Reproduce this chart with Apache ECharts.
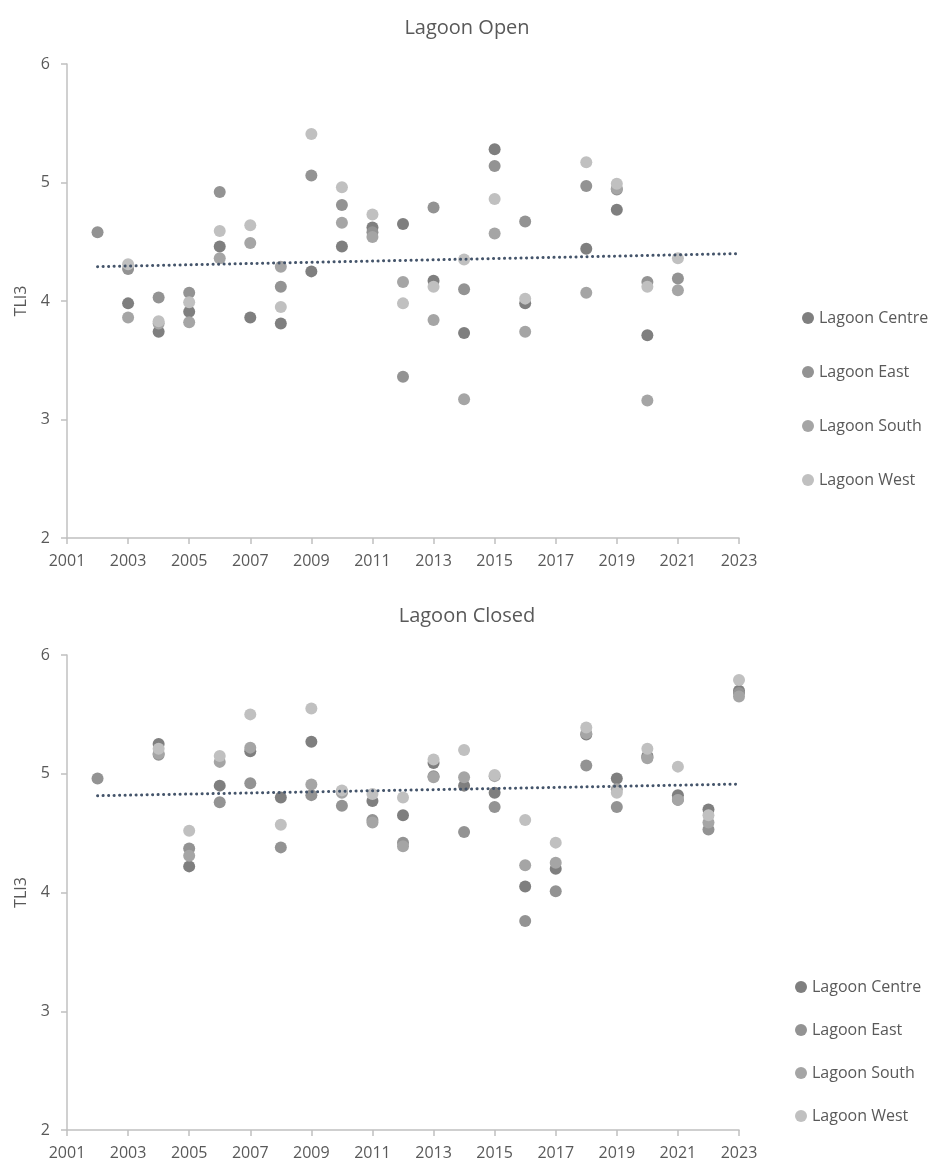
<!DOCTYPE html>
<html>
<head>
<meta charset="utf-8">
<title>Lagoon TLI3</title>
<script src="https://cdn.jsdelivr.net/npm/echarts@6/dist/echarts.min.js"></script>
<style>
  html, body { margin: 0; padding: 0; background: #fff; }
  #chart { width: 934px; height: 1162px; }
</style>
</head>
<body>
<div id="chart"></div>
<script>
// years shared by both panels
const years = [2002, 2003, 2004, 2005, 2006, 2007, 2008, 2009, 2010, 2011, 2012,
  2013, 2014, 2015, 2016, 2017, 2018, 2019, 2020, 2021, 2022, 2023]
const siteNames = ['Lagoon Centre', 'Lagoon East', 'Lagoon South', 'Lagoon West']
const siteColors = ['#7f7f7f', '#939393', '#a5a5a5', '#c0c0c0']

// Lagoon open (null = no sample)
const openCentre = [null, 3.98, 3.74, 3.91, 4.46, 3.86, 3.81, 4.25, 4.46, 4.62, 4.65,
  4.17, 3.73, 5.28, 3.98, null, 4.44, 4.77, 3.71, null, null, null]
const openEast = [4.58, 4.27, 4.03, 4.07, 4.92, null, 4.12, 5.06, 4.81, 4.58, 3.36,
  4.79, 4.10, 5.14, 4.67, null, 4.97, 4.94, 4.16, 4.19, null, null]
const openSouth = [null, 3.86, 3.81, 3.82, 4.36, 4.49, 4.29, null, 4.66, 4.54, 4.16,
  3.84, 3.17, 4.57, 3.74, null, 4.07, 4.95, 3.16, 4.09, null, null]
const openWest = [null, 4.31, 3.83, 3.99, 4.59, 4.64, 3.95, 5.41, 4.96, 4.73, 3.98,
  4.12, 4.35, 4.86, 4.02, null, 5.17, 4.99, 4.12, 4.36, null, null]

// Lagoon closed
const closedCentre = [null, null, 5.25, 4.22, 4.90, 5.19, 4.80, 5.27, 4.85, 4.77, 4.65,
  5.09, 4.90, 4.84, 4.05, 4.20, 5.33, 4.96, 5.15, 4.82, 4.70, 5.70]
const closedEast = [4.96, null, 5.16, 4.37, 4.76, 4.92, 4.38, 4.82, 4.73, 4.61, 4.42,
  4.98, 4.51, 4.72, 3.76, 4.01, 5.07, 4.72, 5.14, 4.78, 4.53, 5.68]
const closedSouth = [null, null, 5.17, 4.31, 5.10, 5.22, null, 4.91, 4.84, 4.59, 4.39,
  4.97, 4.97, 4.98, 4.23, 4.25, 5.34, 4.87, 5.13, 4.78, 4.59, 5.65]
const closedWest = [null, null, 5.21, 4.52, 5.15, 5.50, 4.57, 5.55, 4.86, 4.83, 4.80,
  5.12, 5.20, 4.99, 4.61, 4.42, 5.39, 4.84, 5.21, 5.06, 4.65, 5.79]

// linear trend lines (end points)
const trendYears = [2002, 2023]
const trendOpen = [4.29, 4.40]
const trendClosed = [4.815, 4.913]

const yTicks = [2, 3, 4, 5, 6]
const xTickStep = 2

const textColor = '#595959'
const axisColor = '#c0c0c0'
const font = '"Open Sans", sans-serif'

const chart = echarts.init(document.getElementById('chart'))

// [year, value] pairs, skipping gaps
function pairs(values) {
  return years.map((y, i) => [y, values[i]]).filter(p => p[1] != null)
}

function xAxisFor(gridIndex) {
  return {
    type: 'value',
    gridIndex,
    min: 2001,
    max: 2023,
    interval: xTickStep,
    splitLine: { show: false },
    axisLine: { onZero: false, lineStyle: { color: axisColor, width: 1.5 } },
    axisTick: { show: true, length: 6, lineStyle: { color: axisColor, width: 1.5 } },
    axisLabel: {
      color: textColor, fontSize: 16, fontFamily: font, margin: 15,
      formatter: v => String(v)
    }
  }
}

function yAxisFor(gridIndex) {
  return {
    type: 'value',
    gridIndex,
    min: yTicks[0],
    max: yTicks[yTicks.length - 1],
    interval: 1,
    name: 'TLI3',
    nameLocation: 'middle',
    nameGap: 38,
    nameTextStyle: { color: textColor, fontSize: 16, fontFamily: font },
    splitLine: { show: false },
    axisLine: { show: true, lineStyle: { color: axisColor, width: 1.5 } },
    axisTick: { show: true, length: 6, lineStyle: { color: axisColor, width: 1.5 } },
    axisLabel: { color: textColor, fontSize: 16, fontFamily: font, margin: 17 }
  }
}

function scatterSeries(idx, groups) {
  return groups.map((vals, i) => ({
    type: 'scatter',
    name: siteNames[i],
    xAxisIndex: idx,
    yAxisIndex: idx,
    symbolSize: 12,
    itemStyle: { color: siteColors[i], opacity: 1 },
    data: pairs(vals)
  }))
}

function trendSeries(idx, vals) {
  return {
    type: 'line',
    name: 'trend' + idx,
    xAxisIndex: idx,
    yAxisIndex: idx,
    symbol: 'none',
    silent: true,
    lineStyle: { color: '#44546a', width: 3, type: [0.1, 5.4], cap: 'round' },
    data: trendYears.map((y, i) => [y, vals[i]])
  }
}

function legendFor(top, left, gap) {
  return {
    orient: 'vertical',
    top,
    left,
    itemGap: gap,
    itemWidth: 12,
    itemHeight: 12,
    icon: 'circle',
    data: siteNames,
    textStyle: { color: textColor, fontSize: 16, fontFamily: font }
  }
}

const option = {
  backgroundColor: '#fff',
  animation: false,
  title: [
    { text: 'Lagoon Open', left: 'center', top: 13,
      textStyle: { color: textColor, fontSize: 20, fontWeight: 'normal', fontFamily: font } },
    { text: 'Lagoon Closed', left: 'center', top: 601,
      textStyle: { color: textColor, fontSize: 20, fontWeight: 'normal', fontFamily: font } }
  ],
  grid: [
    { left: 67, top: 64, width: 672, height: 474 },
    { left: 67, top: 655, width: 672, height: 475 }
  ],
  xAxis: [xAxisFor(0), xAxisFor(1)],
  yAxis: [yAxisFor(0), yAxisFor(1)],
  legend: [legendFor(305, 797, 38), legendFor(974, 790, 27)],
  series: [
    ...scatterSeries(0, [openCentre, openEast, openSouth, openWest]),
    trendSeries(0, trendOpen),
    ...scatterSeries(1, [closedCentre, closedEast, closedSouth, closedWest]),
    trendSeries(1, trendClosed)
  ]
}

chart.setOption(option)
</script>
</body>
</html>
